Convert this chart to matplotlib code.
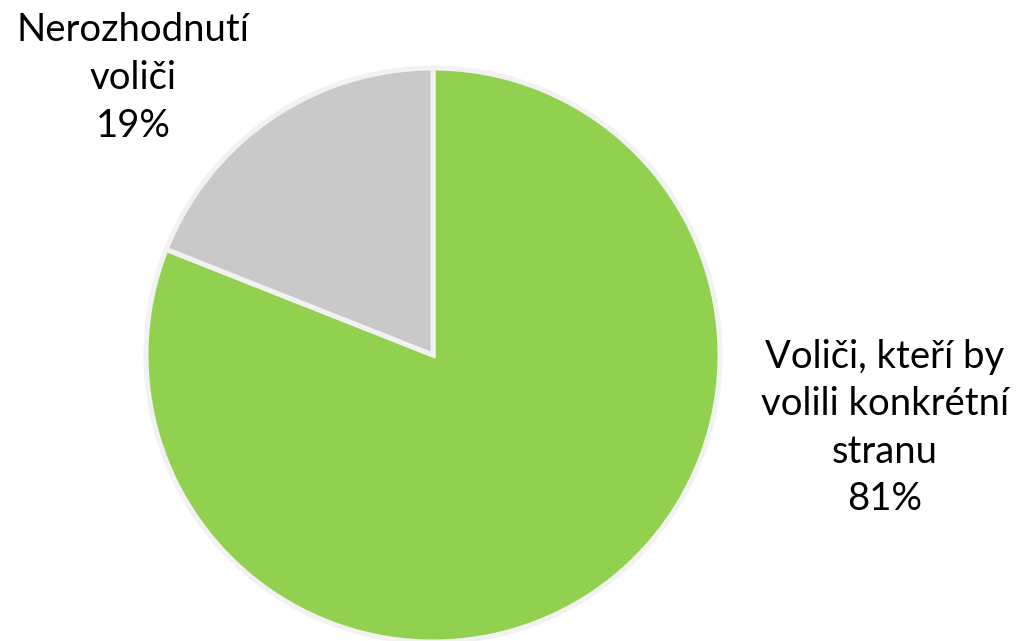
import matplotlib
matplotlib.use("Agg")
import matplotlib.pyplot as plt

categories = ["Voliči, kteří by\nvolili konkrétní\nstranu", "Nerozhodnutí\nvoliči"]
values = [81, 19]
colors = ["#92D050", "#C9C9C9"]

W, H = 1030, 641
fig = plt.figure(figsize=(W / 100, H / 100), dpi=100)
cx, cy, r = 433, 355, 287
ax = fig.add_axes([(cx - r) / W, (H - cy - r) / H, 2 * r / W, 2 * r / H])
ax.pie(values, colors=colors, startangle=90, counterclock=False,
       wedgeprops=dict(edgecolor="#F2F2F2", linewidth=3.6))
ax.set_xlim(-1, 1)
ax.set_ylim(-1, 1)
ax.set_aspect("equal")
ax.axis("off")

total = sum(values)
label_pos = [(885, 428), (133, 78)]
for cat, v, (px, py) in zip(categories, values, label_pos):
    fig.text(px / W, 1 - py / H, f"{cat}\n{round(v / total * 100)}%",
             ha="center", va="center", fontsize=27.5, family="Lato",
             linespacing=1.4, color="black")

fig.savefig("out.png", dpi=100)
